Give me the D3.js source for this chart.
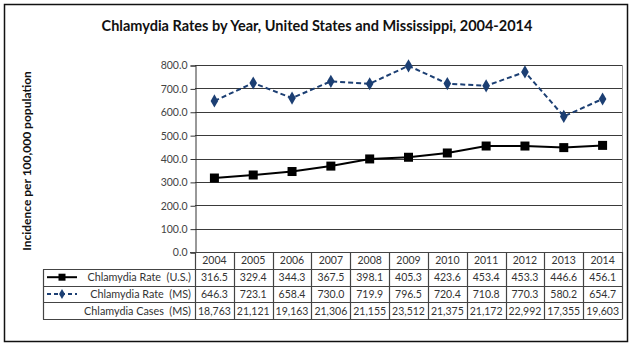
<!DOCTYPE html>
<html>
<head>
<meta charset="utf-8">
<script src="https://cdn.jsdelivr.net/npm/d3@7"></script>
<style>
  body { margin: 0; background: #fff; }
  svg { display: block; font-family: "Lato", "Open Sans", sans-serif; }
</style>
</head>
<body>
<svg width="634" height="350"></svg>
<script>
const svg = d3.select('svg');

// Chart data
const years = ['2004', '2005', '2006', '2007', '2008', '2009', '2010', '2011', '2012', '2013', '2014'];
const rateUS = [316.5, 329.4, 344.3, 367.5, 398.1, 405.3, 423.6, 453.4, 453.3, 446.6, 456.1];
const rateMS = [646.3, 723.1, 658.4, 730.0, 719.9, 796.5, 720.4, 710.8, 770.3, 580.2, 654.7];
const casesMS = ['18,763', '21,121', '19,163', '21,306', '21,155', '23,512', '21,375', '21,172', '22,992', '17,355', '19,603'];
const yTicks = [0, 100, 200, 300, 400, 500, 600, 700, 800];

// Layout
const plot = {left: 195, right: 622, top: 65, bottom: 252};
const rowH = 16.8;
const tableLeft = 43;
const navy = '#1c3f73';

// Outer frame
svg.append('rect')
  .attr('x', 4.5).attr('y', 4.5).attr('width', 623).attr('height', 337)
  .attr('fill', 'none').attr('stroke', '#111').attr('stroke-width', 1.5);

// Title
svg.append('text')
  .attr('x', 317).attr('y', 31)
  .attr('text-anchor', 'middle')
  .attr('font-size', 14.5).attr('font-weight', 'bold').attr('fill', '#111')
  .text('Chlamydia Rates by Year, United States and Mississippi, 2004-2014');

// Y axis title
svg.append('text')
  .attr('transform', 'translate(31,161) rotate(-90)')
  .attr('text-anchor', 'middle')
  .attr('font-size', 12).attr('font-weight', 'bold').attr('fill', '#111')
  .text('Incidence per 100,000 population');

// Scales
const x = d3.scaleBand().domain(years).range([plot.left, plot.right]);
const y = d3.scaleLinear().domain([0, 800]).range([plot.bottom, plot.top]);

// Grid lines
svg.append('g').selectAll('line').data(yTicks.slice(1)).enter().append('line')
  .attr('x1', plot.left).attr('x2', plot.right)
  .attr('y1', d => Math.round(y(d)) + 0.5).attr('y2', d => Math.round(y(d)) + 0.5)
  .attr('stroke', '#3a3a3a').attr('stroke-width', 1.2);

// Plot area right edge
svg.append('line')
  .attr('x1', plot.right + 0.5).attr('x2', plot.right + 0.5)
  .attr('y1', plot.top).attr('y2', plot.bottom)
  .attr('stroke', '#999');

// Y axis
const yAxis = d3.axisLeft(y).tickValues(yTicks).tickSize(5).tickPadding(3)
  .tickFormat(d3.format('.1f'));
const yAxisG = svg.append('g')
  .attr('transform', `translate(${plot.left + 0.5},0.5)`)
  .call(yAxis);
yAxisG.select('.domain').attr('stroke', '#333');
yAxisG.selectAll('.tick line').attr('stroke', '#333');
yAxisG.selectAll('.tick text')
  .attr('font-size', 10.5).attr('fill', '#444')
  .attr('font-family', '"Lato", "Open Sans", sans-serif');

// Data table
const table = svg.append('g');
const tblTop = plot.bottom;
const lineColor = '#444';

// horizontal lines
const hRows = [0, 1, 2, 3, 4];
table.selectAll('line.h').data(hRows).enter().append('line')
  .attr('class', 'h')
  .attr('x1', d => d === 0 ? plot.left - 5 : tableLeft)
  .attr('x2', plot.right)
  .attr('y1', d => Math.round(tblTop + d * rowH) + 0.5)
  .attr('y2', d => Math.round(tblTop + d * rowH) + 0.5)
  .attr('stroke', lineColor).attr('stroke-width', 1.2);

// vertical lines
const colEdges = years.map(d => x(d)).concat([plot.right]);
table.selectAll('line.v').data(colEdges).enter().append('line')
  .attr('class', 'v')
  .attr('x1', d => Math.round(d) + 0.5).attr('x2', d => Math.round(d) + 0.5)
  .attr('y1', tblTop).attr('y2', Math.round(tblTop + 4 * rowH) + 0.5)
  .attr('stroke', lineColor).attr('stroke-width', 1.2);
table.append('line')
  .attr('x1', tableLeft + 0.5).attr('x2', tableLeft + 0.5)
  .attr('y1', Math.round(tblTop + rowH) + 0.5).attr('y2', Math.round(tblTop + 4 * rowH) + 0.5)
  .attr('stroke', lineColor).attr('stroke-width', 1.2);

// header years
table.selectAll('text.yr').data(years).enter().append('text')
  .attr('class', 'yr')
  .attr('x', d => x(d) + x.bandwidth() / 2)
  .attr('y', tblTop + rowH / 2 + 4)
  .attr('text-anchor', 'middle')
  .attr('font-size', 10.5).attr('fill', '#333')
  .text(d => d);

const rows = [
  {label: 'Chlamydia Rate  (U.S.)', values: rateUS.map(d => d.toFixed(1))},
  {label: 'Chlamydia Rate  (MS)', values: rateMS.map(d => d.toFixed(1))},
  {label: 'Chlamydia Cases  (MS)', values: casesMS}
];
rows.forEach((row, i) => {
  const cy = tblTop + (i + 1) * rowH + rowH / 2 + 4;
  table.append('text')
    .attr('x', plot.left - 4).attr('y', cy)
    .attr('text-anchor', 'end')
    .attr('font-size', 10.8).attr('fill', '#333')
    .attr('xml:space', 'preserve')
    .text(row.label);
  table.selectAll(null).data(row.values).enter().append('text')
    .attr('x', (d, j) => x(years[j]) + x.bandwidth() / 2)
    .attr('y', cy)
    .attr('text-anchor', 'middle')
    .attr('font-size', 10.5).attr('fill', '#333')
    .text(d => d);
});

// Legend keys in table
const keyY1 = tblTop + 1.5 * rowH;
const keyY2 = tblTop + 2.5 * rowH;
table.append('line').attr('x1', 47).attr('x2', 77).attr('y1', keyY1).attr('y2', keyY1)
  .attr('stroke', '#000').attr('stroke-width', 2);
table.append('rect').attr('x', 58.5).attr('y', keyY1 - 3.5).attr('width', 7).attr('height', 7).attr('fill', '#000');
table.append('line').attr('x1', 47).attr('x2', 77).attr('y1', keyY2).attr('y2', keyY2)
  .attr('stroke', navy).attr('stroke-width', 2).attr('stroke-dasharray', '4,3');
table.append('path').attr('d', d3.symbol(d3.symbolDiamond, 30)())
  .attr('transform', `translate(62,${keyY2})`).attr('fill', navy);

// Series lines
const line = d3.line()
  .x((d, i) => x(years[i]) + x.bandwidth() / 2)
  .y(d => y(d));

svg.append('path').datum(rateMS)
  .attr('d', line).attr('fill', 'none')
  .attr('stroke', navy).attr('stroke-width', 2).attr('stroke-dasharray', '5,3');
svg.append('g').selectAll('path').data(rateMS).enter().append('path')
  .attr('d', d3.symbol(d3.symbolDiamond, 50)())
  .attr('transform', (d, i) => `translate(${x(years[i]) + x.bandwidth() / 2},${y(d)})`)
  .attr('fill', navy);

svg.append('path').datum(rateUS)
  .attr('d', line).attr('fill', 'none')
  .attr('stroke', '#000').attr('stroke-width', 2);
svg.append('g').selectAll('rect').data(rateUS).enter().append('rect')
  .attr('x', (d, i) => x(years[i]) + x.bandwidth() / 2 - 4.5)
  .attr('y', d => y(d) - 4.5)
  .attr('width', 9).attr('height', 9)
  .attr('fill', '#000');
</script>
</body>
</html>
